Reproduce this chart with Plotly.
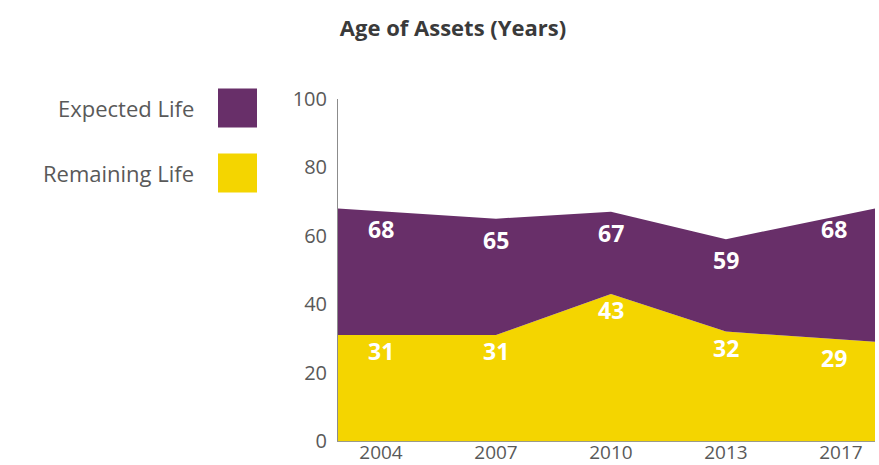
"""Age of Assets area chart"""
import plotly.graph_objects as go

years = ["2004", "2007", "2010", "2013", "2017"]
expected_life = [68, 65, 67, 59, 68]
remaining_life = [31, 31, 43, 32, 29]

PURPLE = "#682F69"
YELLOW = "#F4D500"
GREY_TEXT = "#595959"
FONT = "Open Sans"

W, H = 879, 465
ML, MR, MT, MB = 338, 4, 99, 24
PW, PH = W - ML - MR, H - MT - MB

# categories sit at 0..4, the fill runs out to the plot edges
XRANGE = [-0.374, 4.296]
pos = list(range(len(years)))
area_x = [XRANGE[0]] + pos[1:-1] + [XRANGE[1]]


def px_x(px):
    return (px - ML) / PW


def px_y(py):
    return (H - MB - py) / PH


fig = go.Figure()

fig.add_trace(
    go.Scatter(
        x=area_x,
        y=remaining_life,
        name="Remaining Life",
        mode="lines",
        line=dict(width=0, color=YELLOW),
        fill="tozeroy",
        fillcolor=YELLOW,
        showlegend=False,
    )
)
fig.add_trace(
    go.Scatter(
        x=area_x,
        y=expected_life,
        name="Expected Life",
        mode="lines",
        line=dict(width=0, color=PURPLE),
        fill="tonexty",
        fillcolor=PURPLE,
        showlegend=False,
    )
)

annotations = []
for i, (e, r) in enumerate(zip(expected_life, remaining_life)):
    shift = -7 if i == len(years) - 1 else 0
    annotations.append(
        dict(
            x=pos[i], y=e, text=f"<b>{e}</b>", showarrow=False,
            yshift=-21, xshift=shift,
            font=dict(family=FONT, size=23, color="white"),
        )
    )
    annotations.append(
        dict(
            x=pos[i], y=r, text=f"<b>{r}</b>", showarrow=False,
            yshift=-16, xshift=shift,
            font=dict(family=FONT, size=23, color="white"),
        )
    )

# custom legend: label on the left, swatch on the right
legend_items = [("Expected Life", PURPLE, 108), ("Remaining Life", YELLOW, 173)]
shapes = []
for label, color, cy in legend_items:
    annotations.append(
        dict(
            xref="paper", yref="paper", x=px_x(196), y=px_y(cy),
            xanchor="right", yanchor="middle", text=label, showarrow=False,
            font=dict(family=FONT, size=22, color=GREY_TEXT),
        )
    )
    shapes.append(
        dict(
            type="rect", xref="paper", yref="paper",
            x0=px_x(218), x1=px_x(257), y0=px_y(cy + 19.5), y1=px_y(cy - 19.5),
            fillcolor=color, line_width=0,
        )
    )

fig.update_layout(
    width=W,
    height=H,
    margin=dict(l=ML, r=MR, t=MT, b=MB),
    paper_bgcolor="white",
    plot_bgcolor="white",
    title=dict(
        text="<b>Age of Assets (Years)</b>",
        x=453 / W, xref="container", xanchor="center",
        y=1 - 28 / H, yref="container", yanchor="middle",
        font=dict(family=FONT, size=22, color="#3a3a3a"),
    ),
    annotations=annotations,
    shapes=shapes,
    xaxis=dict(
        range=XRANGE,
        tickvals=pos,
        ticktext=years,
        showgrid=False,
        zeroline=False,
        showline=True,
        linecolor="#9a9a8a",
        linewidth=1,
        ticks="",
        automargin=False,
        ticklabelstandoff=-6,
        tickfont=dict(family=FONT, size=19, color=GREY_TEXT),
        fixedrange=True,
    ),
    yaxis=dict(
        range=[0, 100],
        tickvals=[0, 20, 40, 60, 80, 100],
        showgrid=False,
        zeroline=False,
        showline=True,
        linecolor="#8c8c8c",
        linewidth=1,
        ticks="",
        automargin=False,
        ticklabelstandoff=6,
        tickfont=dict(family=FONT, size=20, color=GREY_TEXT),
        fixedrange=True,
    ),
)

# drop the default 8px page margin so the figure fills the window exactly
fig.write_html(
    "out.html",
    config={"displayModeBar": False},
    post_script="document.body.style.margin = '0';",
)
